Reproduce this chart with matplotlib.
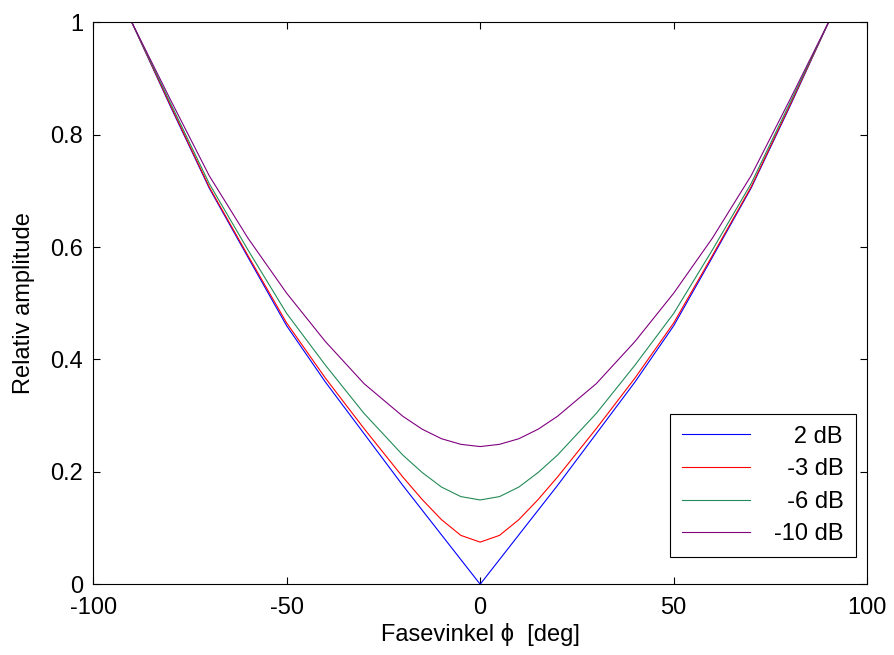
import matplotlib
matplotlib.use('Agg')
import matplotlib.pyplot as plt

fontsize_main = 17

# phase angle in degrees
phase = [-90, -80, -70, -60, -50, -40, -30, -20, -15, -10, -5, 0,
         5, 10, 15, 20, 30, 40, 50, 60, 70, 80, 90]

# relative amplitude
amp_2db = [1.0, 0.850, 0.705, 0.582, 0.460, 0.360, 0.268, 0.176, 0.132, 0.088, 0.044, 0.0,
           0.044, 0.088, 0.132, 0.176, 0.268, 0.360, 0.460, 0.582, 0.705, 0.850, 1.0]
amp_3db = [1.0, 0.852, 0.707, 0.585, 0.465, 0.367, 0.277, 0.191, 0.151, 0.115, 0.087, 0.075,
           0.087, 0.115, 0.151, 0.191, 0.277, 0.367, 0.465, 0.585, 0.707, 0.852, 1.0]
amp_6db = [1.0, 0.856, 0.713, 0.595, 0.482, 0.390, 0.304, 0.230, 0.199, 0.173, 0.156, 0.150,
           0.156, 0.173, 0.199, 0.230, 0.304, 0.390, 0.482, 0.595, 0.713, 0.856, 1.0]
amp_10db = [1.0, 0.862, 0.727, 0.616, 0.518, 0.432, 0.357, 0.299, 0.276, 0.259, 0.249, 0.245,
            0.249, 0.259, 0.276, 0.299, 0.357, 0.432, 0.518, 0.616, 0.727, 0.862, 1.0]

labels = ['   2 dB', '  -3 dB', '  -6 dB', '-10 dB']
line_colors = ['#0000ff', '#ff0000', '#238b57', '#800080']

plt.rcParams['font.family'] = ['Liberation Sans', 'DejaVu Sans']
plt.rcParams['axes.unicode_minus'] = False

fig = plt.figure(figsize=(8.95, 6.55), dpi=100)
ax = fig.add_axes([0.104, 0.108, 0.865, 0.858])

for ys, lab, col in zip([amp_2db, amp_3db, amp_6db, amp_10db], labels, line_colors):
    ax.plot(phase, ys, color=col, linewidth=0.8, label=lab)

ax.set_xlim(-100, 100)
ax.set_ylim(0, 1)
ax.set_xticks([-100, -50, 0, 50, 100])
ax.set_yticks([0, 0.2, 0.4, 0.6, 0.8, 1])
ax.set_yticklabels(['0', '0.2', '0.4', '0.6', '0.8', '1'])
ax.tick_params(direction='in', top=True, right=True, length=5, width=0.8,
               labelsize=fontsize_main, pad=7)
ax.tick_params(axis='x', pad=9)
for sp in ax.spines.values():
    sp.set_linewidth(0.8)

ax.set_xlabel('Fasevinkel \u03d5  [deg]', fontsize=fontsize_main, labelpad=3)
ax.set_ylabel('Relativ amplitude', fontsize=fontsize_main, labelpad=11)

leg = ax.legend(loc='lower right', bbox_to_anchor=(0.985, 0.048), borderaxespad=0,
                fontsize=fontsize_main, fancybox=False, framealpha=1, edgecolor='black',
                handlelength=2.9, handletextpad=1.0, labelspacing=0.45, borderpad=0.5)
leg.get_frame().set_linewidth(0.8)

fig.savefig('out.png', dpi=100)
